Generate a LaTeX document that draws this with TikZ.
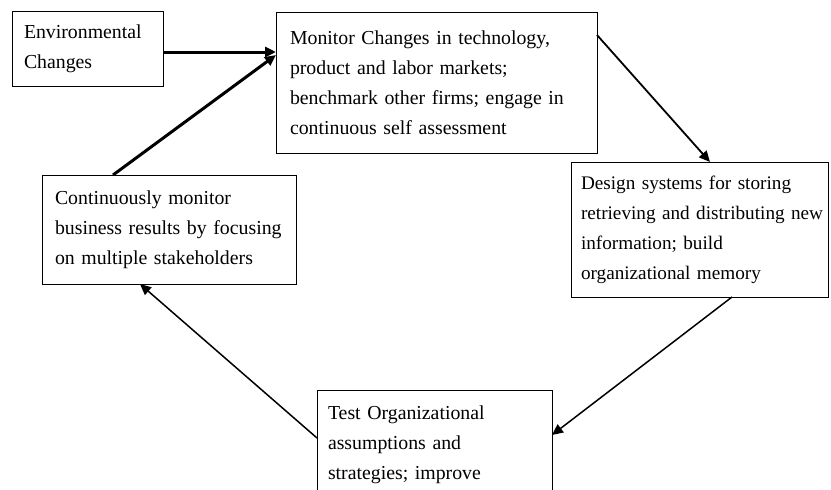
\documentclass[tikz,border=0pt]{standalone}
\usepackage{fontspec}
\setmainfont{Liberation Serif}
\usetikzlibrary{arrows.meta}

\tikzset{
  box/.style={draw, line width=1pt, rectangle, anchor=north west, outer sep=0pt,
    align=left, inner ysep=0pt, font=\fontsize{19.8}{30}\selectfont},
  flow/.style={-{Triangle[length=11pt,width=10pt]}, line width=1.8pt},
  bigflow/.style={flow, line width=3pt},
}

\begin{document}
\begin{tikzpicture}[x=1pt,y=-1pt]
        \useasboundingbox (0,0) rectangle (831,490);
        \clip (0,0) rectangle (831,490);
        \node [box, minimum width=151pt, minimum height=75pt, inner xsep=12pt, text width=127pt] (env) at (12,11) {Environmental\\Changes};
        \node [box, minimum width=321pt, minimum height=141pt, inner xsep=14pt, text width=293pt] (mon) at (276,12) {Monitor Changes in technology,\\product and labor markets;\\benchmark other firms; engage in\\continuous self assessment};
        \node [box, minimum width=257pt, minimum height=135pt, inner xsep=10pt, text width=237pt, font=\fontsize{19.2}{30}\selectfont] (des) at (571,162) {Design systems for storing\\\mbox{retrieving and distributing new}\\information; build\\organizational memory};
        \node [box, minimum width=254pt, minimum height=109pt, inner xsep=13pt, text width=228pt] (cont) at (42,175) {Continuously monitor\\\mbox{business results by focusing}\\on multiple stakeholders};
        \node [box, minimum width=235pt, inner xsep=11pt, inner ysep=16pt, text width=213pt] (test) at (317,390) {Test Organizational\\assumptions and\\strategies; improve};
        % the loop
        \draw [bigflow] ([yshift=-3.5pt]env.east) -- ([yshift=30.5pt]mon.west);
        \draw [bigflow] ([xshift=71pt]cont.north west) -- ([yshift=27.5pt]mon.west);
        \draw [flow] ([yshift=-23pt]mon.north east) -- ([xshift=139pt]des.north west);
        \draw [flow, line width=1.5pt] ([xshift=161pt]des.south west) -- ([yshift=-45pt]test.north east);
        \draw [flow, line width=1.5pt] ([yshift=-48pt]test.north west) -- ([xshift=98pt]cont.south west);
    \end{tikzpicture}
\end{document}
